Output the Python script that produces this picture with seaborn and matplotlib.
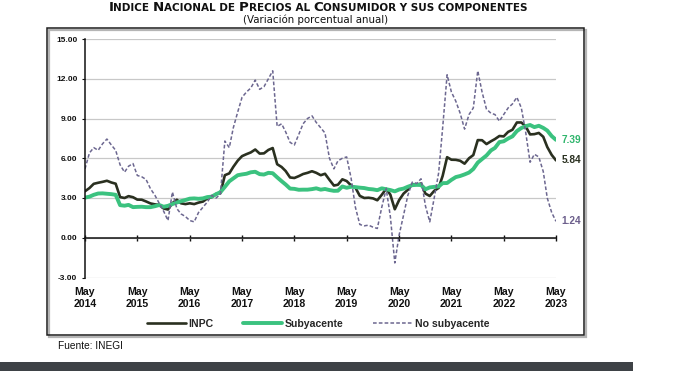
import matplotlib
matplotlib.use("Agg")
import pandas as pd
import matplotlib.pyplot as plt
from matplotlib.patches import Rectangle
from matplotlib.lines import Line2D
import seaborn as sns

# Variacion porcentual anual, mensual de mayo 2014 a mayo 2023
inpc = [
    3.51, 3.75, 4.07, 4.15, 4.22, 4.30, 4.17, 4.08,
    3.07, 3.00, 3.14, 3.06, 2.88, 2.87, 2.74, 2.59, 2.52, 2.48, 2.21, 2.13,
    2.61, 2.87, 2.60, 2.54, 2.60, 2.54, 2.65, 2.73, 2.97, 3.06, 3.31, 3.36,
    4.72, 4.86, 5.35, 5.82, 6.16, 6.31, 6.44, 6.66, 6.35, 6.37, 6.63, 6.77,
    5.55, 5.34, 5.04, 4.55, 4.51, 4.65, 4.81, 4.90, 5.02, 4.90, 4.72, 4.83,
    4.37, 3.94, 4.00, 4.41, 4.28, 3.95, 3.78, 3.16, 3.00, 3.02, 2.97, 2.83,
    3.24, 3.70, 3.25, 2.15, 2.84, 3.33, 3.62, 4.05, 4.01, 4.09, 3.33, 3.15,
    3.54, 3.76, 4.67, 6.08, 5.89, 5.88, 5.81, 5.59, 6.00, 6.24, 7.37, 7.36,
    7.07, 7.28, 7.45, 7.68, 7.65, 7.99, 8.15, 8.70, 8.70, 8.41, 7.80, 7.82,
    7.91, 7.62, 6.85, 6.25, 5.84,
]
subyacente = [
    3.03, 3.10, 3.24, 3.34, 3.35, 3.32, 3.29, 3.24,
    2.46, 2.42, 2.48, 2.31, 2.33, 2.34, 2.31, 2.31, 2.38, 2.47, 2.34, 2.41,
    2.54, 2.66, 2.76, 2.85, 2.95, 2.97, 2.94, 2.97, 3.07, 3.10, 3.29, 3.44,
    3.84, 4.26, 4.48, 4.72, 4.78, 4.83, 4.94, 4.98, 4.80, 4.77, 4.90, 4.87,
    4.56, 4.27, 4.02, 3.71, 3.69, 3.62, 3.63, 3.63, 3.67, 3.73, 3.63, 3.68,
    3.60, 3.54, 3.55, 3.87, 3.77, 3.85, 3.82, 3.78, 3.75, 3.68, 3.65, 3.59,
    3.73, 3.66, 3.60, 3.50, 3.64, 3.71, 3.85, 3.97, 3.99, 3.98, 3.66, 3.80,
    3.84, 3.87, 4.12, 4.13, 4.37, 4.58, 4.66, 4.78, 4.92, 5.19, 5.67, 5.94,
    6.21, 6.59, 6.78, 7.22, 7.28, 7.49, 7.65, 8.05, 8.28, 8.42, 8.51, 8.35,
    8.45, 8.29, 8.09, 7.67, 7.39,
]
no_subyacente = [
    5.2, 6.4, 6.8, 6.6, 7.1, 7.45, 7.0, 6.6,
    5.5, 4.95, 5.4, 5.6, 4.7, 4.6, 4.4, 3.7, 3.2, 2.6, 2.0, 1.3,
    3.45, 2.2, 1.8, 1.6, 1.3, 1.2, 1.9, 2.3, 2.7, 3.2, 3.0, 3.3,
    7.3, 6.8, 8.3, 9.5, 10.6, 11.0, 11.3, 11.9, 11.2, 11.4, 12.0, 12.6,
    8.4, 8.6, 8.0, 7.2, 7.0, 7.8, 8.6, 9.0, 9.2, 8.7, 8.3, 7.9,
    6.0, 5.2, 5.8, 6.0, 6.1, 4.5, 2.3, 1.0, 0.9, 0.95, 0.8, 0.7,
    2.3, 3.7, 1.6, -1.9, 0.2, 1.7, 3.2, 4.2, 4.1, 4.45, 2.4, 1.2,
    3.0, 4.9, 8.3, 12.3, 11.0, 10.3, 9.4, 8.2, 9.3, 9.8, 12.6, 11.0,
    9.7, 9.4, 9.3, 8.8, 9.3, 9.8, 10.1, 10.6, 9.8, 8.0, 5.7, 6.3,
    6.1, 5.0, 3.0, 1.9, 1.24,
]
anios = list(range(2014, 2024))
yticks = [-3, 0, 3, 6, 9, 12, 15]

fechas = pd.date_range("2014-05-01", periods=len(inpc), freq="MS")
df = pd.DataFrame({
    "fecha": fechas,
    "INPC": inpc,
    "Subyacente": subyacente,
    "No subyacente": no_subyacente,
})

colores = {"INPC": "#2a3020", "Subyacente": "#3bc27f", "No subyacente": "#6c6790"}
etiquetas = {"INPC": "#2a3020", "Subyacente": "#2fb56c", "No subyacente": "#6c5f8c"}

sns.set_style("white")
plt.rcParams["font.family"] = ["Liberation Sans", "DejaVu Sans"]

W, H = 676, 371
fig = plt.figure(figsize=(W / 100, H / 100), dpi=100)
ax = fig.add_axes([85 / W, 1 - 277.5 / H, (556 - 85) / W, (277.5 - 39) / H])

estilos = [
    ("INPC", 1.9, "-"),
    ("Subyacente", 2.8, "-"),
    ("No subyacente", 1.1, (0, (2.4, 1.4))),
]
for serie, lw, ls in estilos:
    sns.lineplot(data=df, x="fecha", y=serie, color=colores[serie],
                 linewidth=lw, linestyle=ls, ax=ax, legend=False)

# ultimo valor al final de cada serie
for serie, _, _ in estilos:
    ult = df[serie].iloc[-1]
    ax.annotate(f"{ult:.2f}", xy=(df["fecha"].iloc[-1], ult), xytext=(4, 0),
                textcoords="offset points", va="center", ha="left",
                fontsize=7.3, fontweight="bold", color=etiquetas[serie],
                annotation_clip=False)

ax.set_xlim(fechas[0], fechas[-1])
ax.set_ylim(-3, 15)
ax.set_yticks(yticks)
ax.set_yticklabels([f"{v:.2f}" for v in yticks])
ax.set_xticks(fechas[::12])
ax.set_xticklabels([f"May\n{a}" for a in anios], linespacing=1.05)
ax.set_xlabel("")
ax.set_ylabel("")

ax.grid(axis="y", color="#c8c8c8", linewidth=0.9)
ax.grid(axis="x", visible=False)
ax.set_axisbelow(True)
for lado in ["top", "right"]:
    ax.spines[lado].set_visible(False)
ax.spines["bottom"].set_position(("data", 0))
ax.spines["bottom"].set_color("#111111")
ax.spines["bottom"].set_linewidth(1.1)
ax.spines["left"].set_color("#111111")
ax.spines["left"].set_linewidth(1.1)

ax.tick_params(axis="x", direction="inout", length=5, width=1, pad=33,
               labelsize=7.6, colors="#111111", bottom=True)
ax.tick_params(axis="y", direction="out", length=2.5, width=0.8, pad=3,
               labelsize=6, colors="#111111", left=True)
for lab in ax.get_xticklabels() + ax.get_yticklabels():
    lab.set_fontweight("bold")

# leyenda
manijas = [
    Line2D([], [], color=colores["INPC"], linewidth=1.9),
    Line2D([], [], color=colores["Subyacente"], linewidth=2.8),
    Line2D([], [], color=colores["No subyacente"], linewidth=1.1, linestyle=(0, (2.4, 1.4))),
]
fig.legend(manijas, ["INPC", "Subyacente", "No subyacente"], loc="center",
           bbox_to_anchor=(318 / W, 1 - 324 / H), ncol=3, frameon=False,
           prop={"weight": "bold", "size": 7.6}, handlelength=3.7,
           handletextpad=0.25, columnspacing=2.8)

# recuadro del grafico con sombra
fig.patches.append(Rectangle((48.5 / W, 1 - 337 / H), (584 - 46.5) / W, (335 - 28.3) / H,
                             transform=fig.transFigure, fill=False,
                             edgecolor="#b5b5b5", linewidth=1.6, zorder=0))
fig.patches.append(Rectangle((46.5 / W, 1 - 335 / H), (584 - 46.5) / W, (335 - 28.3) / H,
                             transform=fig.transFigure, fill=False,
                             edgecolor="#1e1e1e", linewidth=1.1, zorder=1))
# franja oscura inferior
fig.patches.append(Rectangle((0, 0), 633 / W, 9.5 / H, transform=fig.transFigure,
                             facecolor="#3e4246", edgecolor="none"))

# titulo en versalitas: trozos de mayusculas grandes y chicas sobre la misma linea base
texto = "Indice Nacional de Precios al Consumidor y sus componentes"
trozos = []
for ch in texto:
    tam = 9.6 if ch.isupper() else 7.5
    if ch == " " and trozos:
        tam = trozos[-1][1]
    if trozos and trozos[-1][1] == tam:
        trozos[-1][0] += ch
    else:
        trozos.append([ch, tam])

r = fig.canvas.get_renderer()
piezas = []
for t, tam in trozos:
    p = fig.text(0, 1 - 11.3 / H, t.upper(), fontsize=tam, fontweight="bold",
                 family="DejaVu Sans", color="#111111", va="baseline", ha="left")
    piezas.append(p)
anchos = [p.get_window_extent(r).width for p in piezas]
x = 318 - sum(anchos) / 2
for p, a in zip(piezas, anchos):
    p.set_x(x / W)
    x += a

fig.text(316 / W, 1 - 19.5 / H, "(Variación porcentual anual)", fontsize=7.4,
         family="DejaVu Sans", ha="center", va="center", color="#111111")
fig.text(58 / W, 1 - 346 / H, "Fuente: INEGI", fontsize=7.3,
         ha="left", va="center", color="#111111")

fig.savefig("out.png", dpi=100)
